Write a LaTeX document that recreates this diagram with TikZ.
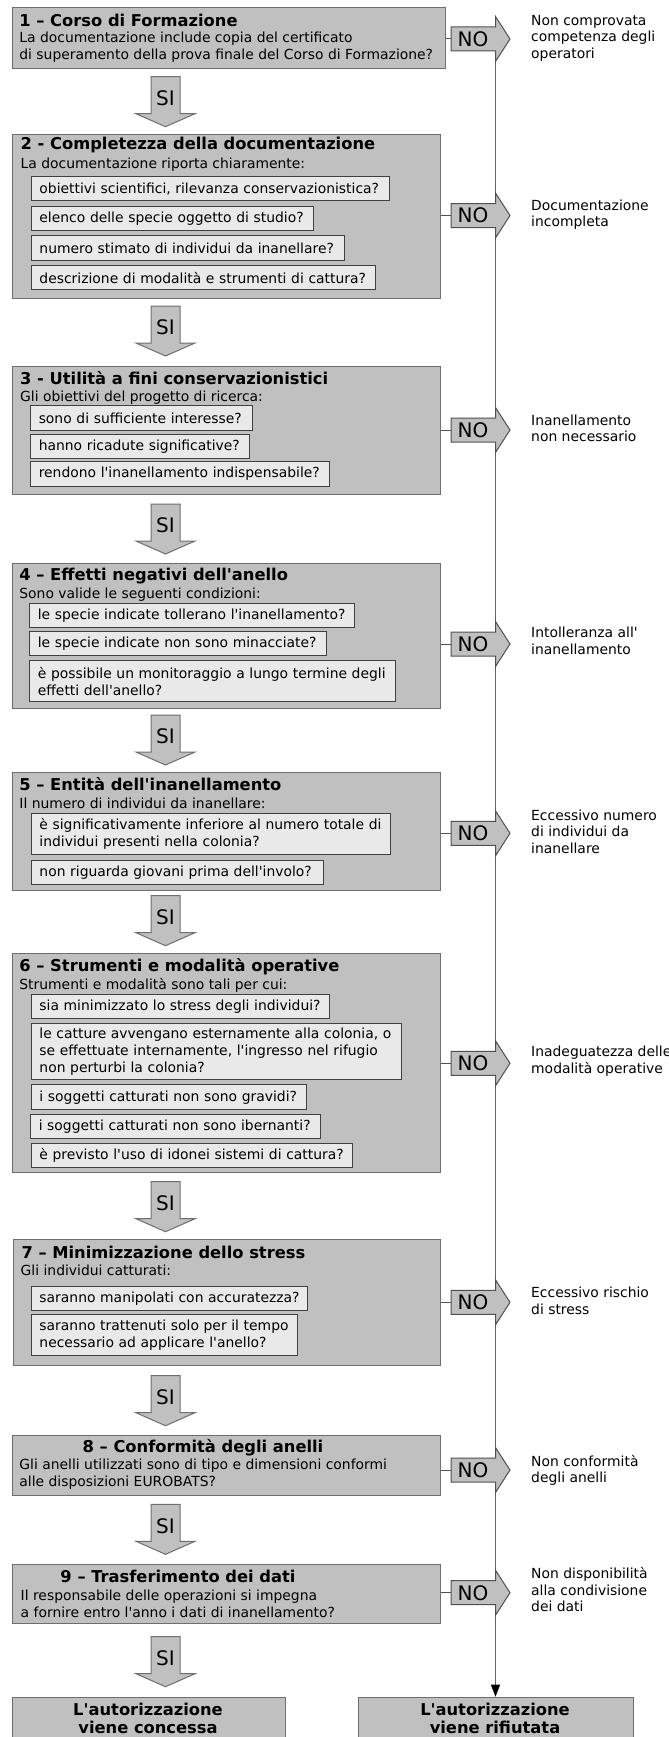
\documentclass[tikz,border=0pt]{standalone}
\usepackage{fontspec}
\setmainfont{DejaVu Sans}
\usetikzlibrary{arrows.meta}
\definecolor{boxgray}{RGB}{192,192,192}
\definecolor{innergray}{RGB}{233,233,233}
\definecolor{edgegray}{RGB}{110,110,110}
\definecolor{noedge}{RGB}{80,80,80}
\newcommand\myBody{\fontsize{13.9}{16.6}\selectfont}
\newcommand\myTitle{\fontsize{16.3}{18}\selectfont\bfseries}
\newcommand\myBig{\fontsize{20}{22}\selectfont}
\newcommand\q{\textquotesingle}
\newcommand\myNo[2]{%
  \draw[noarr] (451,#2-12) -- (495.5,#2-12) -- (495.5,#2-22.5) -- (510,#2) -- (495.5,#2+22.5) -- (495.5,#2+12) -- (451,#2+12) -- cycle;
  \node[notext] (#1) at (473,#2) {NO};
  \coordinate (#1t) at (451,#2);}
\newcommand\mySi[2]{%
  \draw[siarr] (151,#2) -- (180,#2) -- (180,#2+37) -- (195,#2+37) -- (165.5,#2+50) -- (136,#2+37) -- (151,#2+37) -- cycle;
  \node[notext] (#1) at (165.5,#2+21.5) {SI};}
\begin{document}
\begin{tikzpicture}[x=1pt,y=-1pt,
  mainbox/.style={draw=edgegray, fill=boxgray, line width=1.1pt, inner sep=0pt, anchor=north west},
  ibox/.style={draw=black!75, fill=innergray, line width=0.9pt, inner xsep=8pt, inner ysep=0pt, align=left, anchor=north west, font=\myBody},
  ttl/.style={font=\myTitle, inner sep=0pt, anchor=west},
  body/.style={font=\myBody, inner sep=0pt, anchor=west, align=left},
  rtext/.style={font=\myBody, inner sep=0pt, anchor=west, align=left},
  noarr/.style={draw=noedge, fill=boxgray, line width=1pt, line join=miter},
  siarr/.style={draw=edgegray, fill=boxgray, line width=1pt, line join=miter},
  notext/.style={font=\myBig, inner sep=0pt},
  conn/.style={draw=noedge, line width=1pt},
  vline/.style={draw=black!60, line width=1.1pt},
  final/.style={font=\myTitle, inner sep=0pt, align=center}]
\useasboundingbox (0,0) rectangle (669,1737);

% ---- main boxes
\node[mainbox, minimum width=433pt, minimum height=61pt] (b1) at (11.5,7.3) {};
\node[mainbox, minimum width=428pt, minimum height=163.7pt] (b2) at (12,134) {};
\node[mainbox, minimum width=428pt, minimum height=128.6pt] (b3) at (12,365.7) {};
\node[mainbox, minimum width=428pt, minimum height=144.4pt] (b4) at (12,563.3) {};
\node[mainbox, minimum width=428pt, minimum height=118.3pt] (b5) at (12,771.7) {};
\node[mainbox, minimum width=428pt, minimum height=219pt] (b6) at (12,953.3) {};
\node[mainbox, minimum width=427pt, minimum height=125.7pt] (b7) at (13,1239.3) {};
\node[mainbox, minimum width=428pt, minimum height=60.3pt] (b8) at (12,1434.7) {};
\node[mainbox, minimum width=428pt, minimum height=59.3pt] (b9) at (12,1564) {};
\node[mainbox, minimum width=273pt, minimum height=60pt] (acc) at (12,1696.7) {};
\node[mainbox, minimum width=275pt, minimum height=60pt] (rej) at (357.6,1696.7) {};

% ---- box 1
\node[ttl] (t1) at (19.2,20.7) {1 – Corso di Formazione};
\node[body] (s1) at (19.2,47.3) {La documentazione include copia del certificato\\di superamento della prova finale del Corso di Formazione?};

% ---- box 2
\node[ttl] (t2) at (20.5,145) {2 - Completezza della documentazione};
\node[body] (s2) at (20.5,164.3) {La documentazione riporta chiaramente:};
\node[ibox, text width=342pt, minimum height=24.3pt] (b2a) at (31,176) {obiettivi scientifici, rilevanza conservazionistica?};
\node[ibox, text width=266pt, minimum height=24.6pt] (b2b) at (31,205.7) {elenco delle specie oggetto di studio?};
\node[ibox, text width=296.5pt, minimum height=24.7pt] (b2c) at (31,235.3) {numero stimato di individui da inanellare?};
\node[ibox, text width=327.6pt, minimum height=24.3pt] (b2d) at (31,265) {descrizione di modalità e strumenti di cattura?};

% ---- box 3
\node[ttl] (t3) at (20,378.3) {3 - Utilità a fini conservazionistici};
\node[body] (s3) at (20,397.7) {Gli obiettivi del progetto di ricerca:};
\node[ibox, text width=205.4pt, minimum height=24.4pt] (b3a) at (30.3,405.3) {sono di sufficiente interesse?};
\node[ibox, text width=202.5pt, minimum height=24.3pt] (b3b) at (30.3,433.7) {hanno ricadute significative?};
\node[ibox, text width=283.1pt, minimum height=24.7pt] (b3c) at (30.3,461.3) {rendono l\q{}inanellamento indispensabile?};

% ---- box 4
\node[ttl] (t4) at (19.2,575.7) {4 – Effetti negativi dell\q{}anello};
\node[body] (s4) at (19.2,594.3) {Sono valide le seguenti condizioni:};
\node[ibox, text width=308.6pt, minimum height=24.3pt] (b4a) at (29.4,603) {le specie indicate tollerano l\q{}inanellamento?};
\node[ibox, text width=280.2pt, minimum height=24.3pt] (b4b) at (29.4,631) {le specie indicate non sono minacciate?};
\node[ibox, text width=349.3pt, minimum height=41pt] (b4c) at (29.4,660.3) {è possibile un monitoraggio a lungo termine degli\\effetti dell\q{}anello?};

% ---- box 5
\node[ttl] (t5) at (19.2,784.3) {5 – Entità dell\q{}inanellamento};
\node[body] (s5) at (19.2,803.3) {Il numero di individui da inanellare:};
\node[ibox, text width=343.4pt, minimum height=41pt] (b5a) at (31,813) {è significativamente inferiore al numero totale di\\individui presenti nella colonia?};
\node[ibox, text width=276pt, minimum height=24.6pt] (b5b) at (31,859.7) {non riguarda giovani prima dell\q{}involo?};

% ---- box 6
\node[ttl] (t6) at (19.2,966.7) {6 – Strumenti e modalità operative};
\node[body] (s6) at (19.2,985.7) {Strumenti e modalità sono tali per cui:};
\node[ibox, text width=282.4pt, minimum height=24.3pt] (b6a) at (31,994) {sia minimizzato lo stress degli individui?};
\node[ibox, text width=354pt, minimum height=56.3pt] (b6b) at (31,1023) {le catture avvengano esternamente alla colonia, o\\se effettuate internamente, l\q{}ingresso nel rifugio\\non perturbi la colonia?};
\node[ibox, text width=259pt, minimum height=25pt] (b6c) at (31,1084.3) {i soggetti catturati non sono gravidi?};
\node[ibox, text width=273.3pt, minimum height=24.6pt] (b6d) at (30.3,1113.7) {i soggetti catturati non sono ibernanti?};
\node[ibox, text width=305pt, minimum height=24.6pt] (b6e) at (31,1142.7) {è previsto l\q{}uso di idonei sistemi di cattura?};

% ---- box 7
\node[ttl] (t7) at (21.3,1252.3) {7 – Minimizzazione dello stress};
\node[body] (s7) at (20.5,1270.7) {Gli individui catturati:};
\node[ibox, text width=260.2pt, minimum height=24.3pt] (b7a) at (31,1286) {saranno manipolati con accuratezza?};
\node[ibox, text width=249.5pt, minimum height=41pt] (b7b) at (31,1314) {saranno trattenuti solo per il tempo\\necessario ad applicare l\q{}anello?};

% ---- box 8
\node[ttl, anchor=center] (t8) at (203,1447.3) {8 – Conformità degli anelli};
\node[body] (s8) at (19.2,1474.3) {Gli anelli utilizzati sono di tipo e dimensioni conformi\\alle disposizioni EUROBATS?};

% ---- box 9
\node[ttl, anchor=center] (t9) at (178,1576) {9 – Trasferimento dei dati};
\node[body] (s9) at (20.5,1603.5) {Il responsabile delle operazioni si impegna\\a fornire entro l\q{}anno i dati di inanellamento?};

% ---- final texts
\node[final] (tacc) at (148,1718.3) {L\q{}autorizzazione\\viene concessa};
\node[final] (trej) at (495,1718.3) {L\q{}autorizzazione\\viene rifiutata};

% ---- right-hand outcomes
\node[rtext] (r1) at (531,38) {Non comprovata\\competenza degli\\operatori};
\node[rtext] (r2) at (531,214.7) {Documentazione\\incompleta};
\node[rtext] (r3) at (531,428.3) {Inanellamento\\non necessario};
\node[rtext] (r4) at (531,641) {Intolleranza all\q{}\\inanellamento};
\node[rtext] (r5) at (531,831.5) {Eccessivo numero\\di individui da\\inanellare};
\node[rtext] (r6) at (531,1061) {Inadeguatezza delle\\modalità operative};
\node[rtext] (r7) at (531,1300.7) {Eccessivo rischio\\di stress};
\node[rtext] (r8) at (531,1470.3) {Non conformità\\degli anelli};
\node[rtext] (r9) at (531,1589.7) {Non disponibilità\\alla condivisione\\dei dati};

% ---- vertical NO line
\coordinate (vtop) at (495.5,39);
\draw[vline, -{Triangle[length=12pt,width=9pt,color=black]}] (vtop) -- (vtop |- rej.north);

% ---- NO arrows
\myNo{n1}{39}
\myNo{n2}{215.5}
\myNo{n3}{430}
\myNo{n4}{644}
\myNo{n5}{833.3}
\myNo{n6}{1063.3}
\myNo{n7}{1302.3}
\myNo{n8}{1470}
\myNo{n9}{1592.7}
\draw[conn] (b1.east |- n1t) -- (n1t);
\draw[conn] (b2.east |- n2t) -- (n2t);
\draw[conn] (b3.east |- n3t) -- (n3t);
\draw[conn] (b4.east |- n4t) -- (n4t);
\draw[conn] (b5.east |- n5t) -- (n5t);
\draw[conn] (b6.east |- n6t) -- (n6t);
\draw[conn] (b7.east |- n7t) -- (n7t);
\draw[conn] (b8.east |- n8t) -- (n8t);
\draw[conn] (b9.east |- n9t) -- (n9t);

% ---- SI arrows
\mySi{y1}{76.7}
\mySi{y2}{306}
\mySi{y3}{504}
\mySi{y4}{715}
\mySi{y5}{895.7}
\mySi{y6}{1181.7}
\mySi{y7}{1375.7}
\mySi{y8}{1504.3}
\mySi{y9}{1636.7}
\end{tikzpicture}
\end{document}
